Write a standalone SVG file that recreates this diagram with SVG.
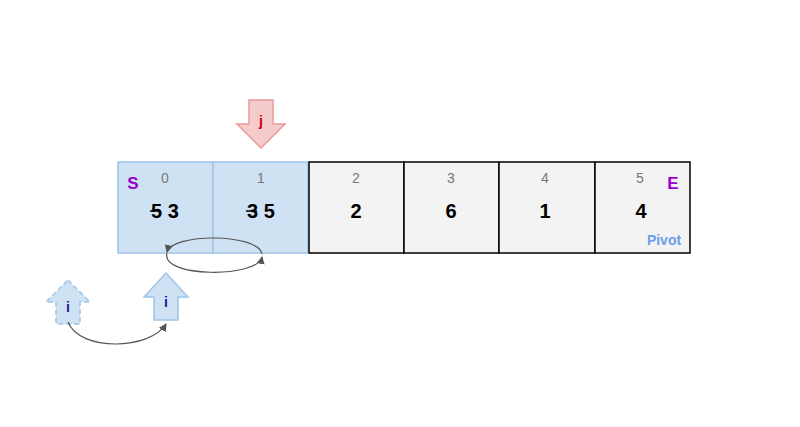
<svg xmlns="http://www.w3.org/2000/svg" width="800" height="427" viewBox="0 0 800 427">
<style>
.idx{font-family:"Liberation Sans",Arial,sans-serif;font-size:14px;fill:#777;text-anchor:middle}
.val{font-family:"Liberation Sans",Arial,sans-serif;font-size:20px;font-weight:bold;fill:#000;text-anchor:middle}
.lbl{font-family:"Liberation Sans",Arial,sans-serif;font-weight:bold;text-anchor:middle}
.blue{fill:#cfe2f3;stroke:#9fc5e8;stroke-width:1.5}
.gray{fill:#f3f3f3;stroke:#000;stroke-width:1.5}
.con{fill:none;stroke:#555;stroke-width:1.2;marker-end:url(#ah)}
</style>
<defs><marker id="ah" markerWidth="8" markerHeight="8" refX="7" refY="4" orient="auto" markerUnits="userSpaceOnUse"><path d="M0,0 L8,4 L0,8z" fill="#555"/></marker></defs>
<rect width="800" height="427" fill="#fff"/>
<g id="cell0"><rect class="blue" x="118" y="162" width="95" height="91"/><text class="idx" x="165" y="183">0</text><text class="lbl" x="133" y="189" font-size="17" fill="#9900cc">S</text><text class="val" x="165" y="218">5 3</text><line x1="150" y1="211" x2="161" y2="211" stroke="#000" stroke-width="1.5"/></g>
<g id="cell1"><rect class="blue" x="213" y="162" width="95" height="91"/><text class="idx" x="261" y="183">1</text><text class="val" x="261" y="218">3 5</text><line x1="246" y1="211" x2="257" y2="211" stroke="#000" stroke-width="1.5"/></g>
<g id="cell2"><rect class="gray" x="309" y="162" width="95" height="91"/><text class="idx" x="356" y="183">2</text><text class="val" x="356" y="218">2</text></g>
<g id="cell3"><rect class="gray" x="404" y="162" width="95" height="91"/><text class="idx" x="451" y="183">3</text><text class="val" x="451" y="218">6</text></g>
<g id="cell4"><rect class="gray" x="499" y="162" width="96" height="91"/><text class="idx" x="545" y="183">4</text><text class="val" x="545" y="218">1</text></g>
<g id="cell5"><rect class="gray" x="595" y="162" width="95" height="91"/><text class="idx" x="640" y="183">5</text><text class="lbl" x="673" y="189" font-size="17" fill="#9900cc">E</text><text class="val" x="641" y="218">4</text><text class="lbl" x="664" y="245" font-size="14" fill="#6d9eeb">Pivot</text></g>
<g id="j"><path d="M249,100 H273 V124 H285 L261,148 L237,124 H249 Z" fill="#f4cccc" stroke="#ea9999" stroke-width="1.5"/><text class="lbl" x="261" y="126" font-size="14" fill="#cc0000">j</text></g>
<g id="i"><path d="M166,273 L188,297 H178 V320 H154 V297 H144 Z" fill="#cfe2f3" stroke="#9fc5e8" stroke-width="1.5"/><text class="lbl" x="166" y="307" font-size="14" fill="#1c1c9c">i</text></g>
<g id="i-old"><path d="M68,280 L90,302 H80 V324 H56 V302 H46 Z" fill="#cfe2f3" stroke="#9fc5e8" stroke-width="1.5" stroke-dasharray="5,3"/><text class="lbl" x="68" y="312" font-size="14" fill="#1c1c9c">i</text></g>
<g id="connectors">
<path class="con" d="M262,254 C258,233 172,233 167,252"/>
<path class="con" d="M167,253 C160,278 258,278 262,257"/>
<path class="con" d="M68,322 C80,352 150,350 166,324"/>
</g>
</svg>
